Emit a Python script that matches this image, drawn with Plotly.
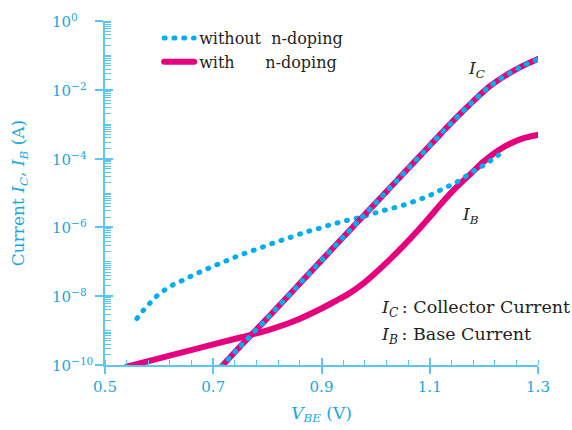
import plotly.graph_objects as go

# ---------------- data ----------------
# Collector current, with n-doping (V_BE in V, I in A)
ic_with_v = [0.715, 0.75, 0.80, 0.85, 0.90, 0.95, 1.00, 1.05, 1.10, 1.15, 1.18, 1.21, 1.24, 1.27, 1.30]
ic_with_i = [8.9e-11, 3.5e-10, 2.3e-9, 1.6e-8, 1.1e-7, 7.6e-7, 5.1e-6, 3.5e-5, 2.4e-4, 1.6e-3,
             4.6e-3, 1.23e-2, 2.6e-2, 4.8e-2, 7.9e-2]

# Collector current, without n-doping (overlaps the doped curve)
ic_without_v = [0.715, 0.75, 0.80, 0.85, 0.90, 0.95, 1.00, 1.05, 1.10, 1.15, 1.18, 1.21, 1.24, 1.27, 1.30]
ic_without_i = [8.9e-11, 3.5e-10, 2.3e-9, 1.6e-8, 1.1e-7, 7.6e-7, 5.1e-6, 3.5e-5, 2.4e-4, 1.6e-3,
                4.6e-3, 1.23e-2, 2.6e-2, 4.8e-2, 7.9e-2]

# Base current, with n-doping
ib_with_v = [0.54, 0.60, 0.65, 0.70, 0.75, 0.80, 0.85, 0.90, 0.925, 0.95, 0.975, 1.00, 1.025,
             1.05, 1.075, 1.10, 1.125, 1.15, 1.175, 1.20, 1.225, 1.25, 1.275, 1.30]
ib_with_i = [8.9e-11, 1.55e-10, 2.5e-10, 4.0e-10, 6.3e-10, 1.02e-9, 1.9e-9, 4.4e-9, 7.1e-9, 1.17e-8,
             2.2e-8, 4.8e-8, 1.12e-7, 2.75e-7, 7.2e-7, 2.0e-6, 5.8e-6, 1.5e-5, 3.55e-5, 8.3e-5,
             1.66e-4, 2.8e-4, 4.0e-4, 4.9e-4]

# Base current, without n-doping
ib_without_v = [0.559, 0.571, 0.583, 0.596, 0.612, 0.628, 0.646, 0.663, 0.680, 0.697, 0.715, 0.732,
                0.750, 0.768, 0.786, 0.804, 0.822, 0.840, 0.859, 0.877, 0.895, 0.913, 0.932, 0.950,
                0.968, 0.987, 1.005, 1.024, 1.042, 1.060, 1.078, 1.096, 1.113, 1.131, 1.147, 1.163,
                1.179, 1.195, 1.211, 1.227]
ib_without_i = [2.24e-9, 3.9e-9, 6.3e-9, 1.02e-8, 1.58e-8, 2.24e-8, 3.0e-8, 4.1e-8, 5.4e-8, 7.1e-8,
                9.3e-8, 1.2e-7, 1.58e-7, 2.0e-7, 2.5e-7, 3.2e-7, 4.0e-7, 5.0e-7, 6.3e-7, 7.8e-7,
                9.3e-7, 1.15e-6, 1.38e-6, 1.64e-6, 1.9e-6, 2.3e-6, 2.8e-6, 3.4e-6, 4.0e-6, 4.9e-6,
                6.3e-6, 7.9e-6, 1.07e-5, 1.48e-5, 1.95e-5, 2.8e-5, 4.2e-5, 5.8e-5, 8.5e-5, 1.26e-4]

x_tick_vals = [0.5, 0.7, 0.9, 1.1, 1.3]
x_tick_text = ["0.5", "0.7", "0.9", "1.1", "1.3"]
y_tick_exp = [0, -2, -4, -6, -8, -10]
y_tick_vals = [10.0 ** e for e in y_tick_exp]
y_tick_text = ["10<sup>0</sup>", "10<sup>\u22122</sup>", "10<sup>\u22124</sup>",
               "10<sup>\u22126</sup>", "10<sup>\u22128</sup>", "10<sup>\u221210</sup>"]

legend_without = "without\u00a0\u00a0n-doping"
legend_with = "with\u00a0\u00a0\u00a0\u00a0\u00a0\u00a0n-doping"

# ---------------- styles ----------------
CYAN_TXT = "#1ba7e0"
CYAN_AX = "#5cc6f2"
DOT = "#00aeef"
MAG = "#e6007e"
INK = "#231f20"
FONT = "DejaVu Serif"
DOTDASH = "1px,8.8px"

fig = go.Figure()

# base currents on the primary axes
fig.add_trace(go.Scatter(x=ib_with_v, y=ib_with_i, mode="lines", showlegend=False,
                         line=dict(color=MAG, width=6, shape="spline"), xaxis="x", yaxis="y"))
fig.add_trace(go.Scatter(x=ib_without_v, y=ib_without_i, mode="lines", showlegend=False,
                         line=dict(color=DOT, width=5, dash=DOTDASH, shape="spline"), xaxis="x", yaxis="y"))
# collector currents on the overlaid axes
fig.add_trace(go.Scatter(x=ic_with_v, y=ic_with_i, mode="lines", name=legend_with, legendrank=2,
                         line=dict(color=MAG, width=6, shape="spline"), xaxis="x2", yaxis="y2"))
fig.add_trace(go.Scatter(x=ic_without_v, y=ic_without_i, mode="lines", name=legend_without, legendrank=1,
                         line=dict(color=DOT, width=5, dash=DOTDASH, shape="spline"), xaxis="x2", yaxis="y2"))

axis_common = dict(showgrid=False, zeroline=False, tickcolor=CYAN_AX, tickwidth=1.5, automargin=False)

# y tick labels, left-aligned as in the reference
ytick_annots = [
    dict(x=-0.128, y=e, xref="paper", yref="y", xanchor="left", yanchor="middle", text=t,
         showarrow=False, font=dict(family=FONT, size=15, color=CYAN_TXT))
    for e, t in zip(y_tick_exp, y_tick_text)
]

fig.update_layout(
    width=572, height=430,
    margin=dict(l=105, r=34, t=21, b=65),
    paper_bgcolor="white", plot_bgcolor="white",
    font=dict(family=FONT, color=INK, size=15),
    xaxis=dict(range=[0.5, 1.3], tickvals=x_tick_vals, ticktext=x_tick_text,
               ticks="outside", ticklen=7, showline=True, linecolor=CYAN_AX, linewidth=1.5,
               tickfont=dict(family=FONT, size=15, color=CYAN_TXT),
               minor=dict(tick0=0.5, dtick=0.04, ticks="inside", ticklen=5, tickcolor=CYAN_AX, tickwidth=1.2),
               title=dict(text="<i>V<sub>BE</sub></i> (V)", font=dict(family=FONT, size=17, color=CYAN_TXT),
                          standoff=12),
               **axis_common),
    yaxis=dict(type="log", range=[-10, 0], tickvals=y_tick_vals, showticklabels=False,
               ticks="outside", ticklen=8, showline=True, linecolor=CYAN_AX, linewidth=1.5,
               minor=dict(dtick="D1", ticks="inside", ticklen=6, tickcolor=CYAN_AX, tickwidth=1.2),
               title=dict(text="Current <i>I<sub>C</sub></i>, <i>I<sub>B</sub></i> (A)",
                          font=dict(family=FONT, size=17, color=CYAN_TXT), standoff=66),
               **axis_common),
    xaxis2=dict(matches="x", overlaying="x", anchor="y2", side="bottom", tickvals=x_tick_vals,
                ticks="inside", ticklen=7, showticklabels=False, showline=False, **axis_common),
    yaxis2=dict(type="log", matches="y", overlaying="y", anchor="x2", side="left", tickvals=y_tick_vals,
                ticks="inside", ticklen=8, showticklabels=False, showline=False, **axis_common),
    legend=dict(x=0.125, y=1.0, xanchor="left", yanchor="top", bgcolor="rgba(0,0,0,0)",
                font=dict(family=FONT, size=16, color=INK), tracegroupgap=0),
    annotations=ytick_annots + [
        dict(x=1.186, y=-1.40, xref="x", yref="y", text="<i>I<sub>C</sub></i>", showarrow=False,
             font=dict(family=FONT, size=17, color=INK)),
        dict(x=1.175, y=-5.64, xref="x", yref="y", text="<i>I<sub>B</sub></i>", showarrow=False,
             font=dict(family=FONT, size=17, color=INK)),
        dict(x=1.007, y=-8.37, xref="x", yref="y", xanchor="left",
             text="<i>I<sub>C</sub></i>\u2009: Collector Current", showarrow=False,
             font=dict(family=FONT, size=17.5, color=INK)),
        dict(x=1.007, y=-9.13, xref="x", yref="y", xanchor="left",
             text="<i>I<sub>B</sub></i>\u2009: Base Current", showarrow=False,
             font=dict(family=FONT, size=17.5, color=INK)),
    ],
)

post = """
document.body.style.margin = '0';
var gd = document.getElementById('{plot_id}');
gd.querySelectorAll('path.js-line').forEach(function(p){ p.style.strokeLinecap = 'round'; });
"""

fig.write_html("out.html", post_script=post, config={"displayModeBar": False})
